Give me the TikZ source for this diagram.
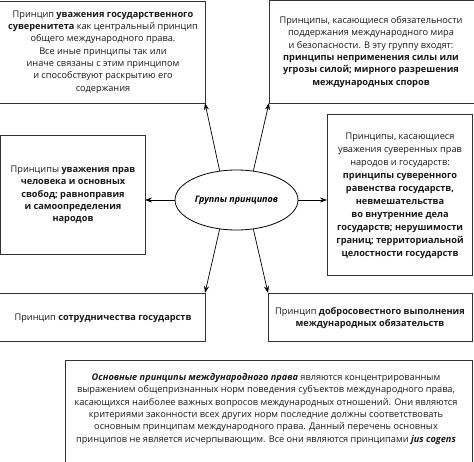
\documentclass[tikz,border=0pt]{standalone}
\usepackage{fontspec}
\setmainfont{Open Sans}
\usetikzlibrary{shapes.geometric,arrows.meta}
\tikzset{
  boxline/.style={draw=black!80,line width=0.8pt},
  txt/.style={align=center,font=\fontsize{9.2}{12.3}\selectfont,inner sep=0pt,text=black!90},
  arr/.style={draw=black,line width=0.7pt,-{Stealth[length=7pt,width=5pt]}},
}
\begin{document}
\begin{tikzpicture}[x=1pt,y=-1pt]
\useasboundingbox (0,0) rectangle (474,461);
\begin{scope}
\clip (0,0) rectangle (474,461);
% boxes
\draw[boxline] (-3,1) rectangle (205,103);
\draw[boxline] (269,0.5) rectangle (478,103);
\draw[boxline] (0.5,135) rectangle (145,254);
\draw[boxline] (327,114) rectangle (472.5,275);
\draw[boxline] (-3,293) rectangle (205,341);
\draw[boxline] (268,293) rectangle (472.5,341);
\draw[boxline] (65,360) rectangle (472.5,470);
\end{scope}
% corner coordinates
\coordinate (b1c) at (205,103);
\coordinate (b2c) at (269,103);
\coordinate (b3c) at (145,200);
\coordinate (b4c) at (327,200);
\coordinate (b5c) at (205,293);
\coordinate (b6c) at (268,293);
% texts
\node[txt] (t1) at (103,52) {Принцип \textbf{уважения государственного}\\\textbf{суверенитета} как центральный принцип\\общего международного права.\\Все иные принципы так или\\иначе связаны с этим принципом\\и способствуют раскрытию его\\содержания};
\node[txt] (t2) at (371,52) {Принципы, касающиеся обязательности\\поддержания международного мира\\и безопасности. В эту группу входят:\\\textbf{принципы неприменения силы или}\\\textbf{угрозы силой; мирного разрешения}\\\textbf{международных споров}};
\node[txt] (t3) at (73,195) {Принципы \textbf{уважения прав}\\\textbf{человека и основных}\\\textbf{свобод; равноправия}\\\textbf{и самоопределения}\\\textbf{народов}};
\node[txt,font=\fontsize{9.2}{13}\selectfont] (t4) at (400,196) {Принципы, касающиеся\\уважения суверенных прав\\народов и государств:\\\textbf{принципы суверенного}\\\textbf{равенства государств,}\\\textbf{невмешательства}\\\textbf{во внутренние дела}\\\textbf{государств; нерушимости}\\\textbf{границ; территориальной}\\\textbf{целостности государств}};
\node[txt] (t5) at (103,318) {Принцип \textbf{сотрудничества государств}};
\node[txt] (t6) at (370,318) {Принцип \textbf{добросовестного выполнения}\\\textbf{международных обязательств}};
\node[txt] (t7) at (266,409) {\textbf{\textit{Основные принципы международного права}} являются концентрированным\\выражением общепризнанных норм поведения субъектов международного права,\\касающихся наиболее важных вопросов международных отношений. Они являются\\критериями законности всех других норм последние должны соответствовать\\основным принципам международного права. Данный перечень основных\\принципов не является исчерпывающим. Все они являются принципами \textbf{\textit{jus cogens}}};
% ellipse
\node[ellipse,draw=black,line width=0.8pt,minimum width=123pt,minimum height=60pt,inner sep=0pt,font=\fontsize{9}{11}\selectfont\bfseries\itshape] (ell) at (236.5,200) {Группы принципов};
% arrows
\draw[arr] (ell.120) -- (b1c);
\draw[arr] (ell.60) -- (b2c);
\draw[arr] (ell.west) -- (b3c);
\draw[arr] (ell.east) -- (b4c);
\draw[arr] (ell.240) -- (b5c);
\draw[arr] (ell.300) -- (b6c);
\end{tikzpicture}
\end{document}
